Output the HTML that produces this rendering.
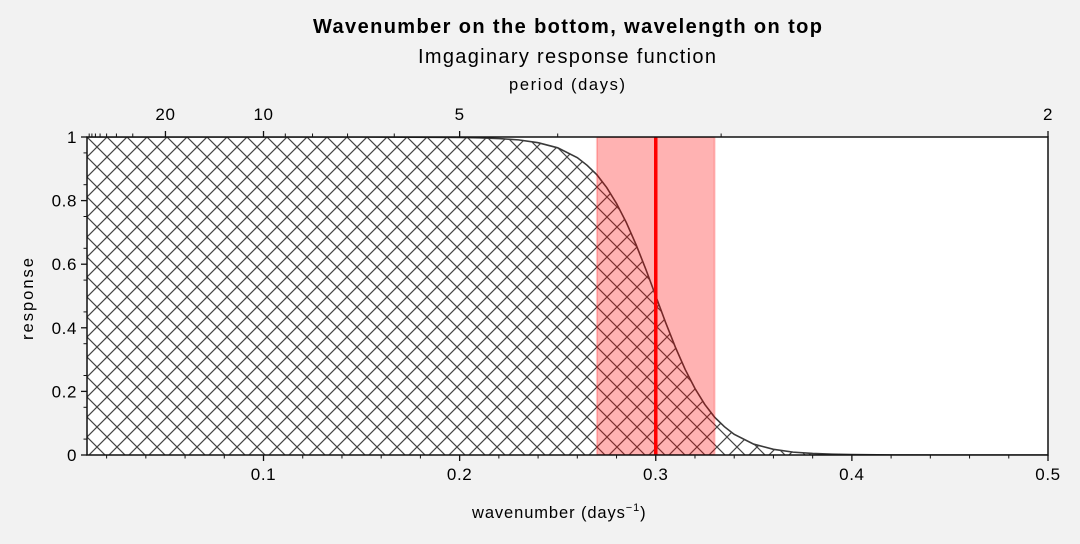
<!DOCTYPE html>
<html><head><meta charset="utf-8"><style>
html,body{margin:0;padding:0;background:#f2f2f2;}
svg{display:block;font-family:"Liberation Sans",sans-serif;}
</style></head><body>
<svg id="chart" width="1080" height="544" viewBox="0 0 1080 544" xmlns="http://www.w3.org/2000/svg">
<defs>
<pattern id="hatch" patternUnits="userSpaceOnUse" width="20" height="20" x="87" y="137">
<path d="M0,0L20,20M20,0L0,20M-2,18L2,22M18,-2L22,2M-2,2L2,-2M18,22L22,18" stroke="#444" stroke-width="1.2" fill="none"/>
</pattern>
<clipPath id="plotclip"><rect x="87" y="137" width="961" height="318"/></clipPath>
</defs>
<rect x="87" y="137" width="961" height="318" fill="#fff"/>
<g id="marks" clip-path="url(#plotclip)"></g>
<g id="axes"></g>
<text x="313" y="33" font-size="20" font-weight="bold" textLength="509" lengthAdjust="spacing">Wavenumber on the bottom, wavelength on top</text>
<text x="418" y="63" font-size="20" textLength="298" lengthAdjust="spacing">Imgaginary response function</text>
<text x="509" y="90" font-size="16.5" textLength="116" lengthAdjust="spacing">period (days)</text>
<text x="472" y="518" font-size="16.5" letter-spacing="0.9">wavenumber (days<tspan font-size="11" dy="-7">−1</tspan><tspan dy="7">)</tspan></text>
<text transform="translate(33,299) rotate(-90)" text-anchor="middle" font-size="16.5" textLength="82" lengthAdjust="spacing">response</text>
</svg>
<script>
const waveX = [0.01,0.05,0.1,0.15,0.2,0.21,0.22,0.23,0.24,0.25,0.26,0.265,0.27,0.275,0.28,0.285,0.29,0.295,0.3,0.305,0.31,0.315,0.32,0.325,0.33,0.335,0.34,0.35,0.36,0.37,0.38,0.39,0.4,0.42,0.45,0.5];
const responseY = [1,1,1,1,0.9987,0.9975,0.995,0.991,0.982,0.966,0.935,0.911,0.881,0.841,0.791,0.731,0.661,0.583,0.5,0.417,0.339,0.269,0.209,0.159,0.119,0.089,0.065,0.034,0.018,0.009,0.005,0.0025,0.0013,0.0003,0.00001,0];
const centerWave = [0.3];
const spanWave = [0.27,0.33];
const xTicks = [0.1,0.2,0.3,0.4,0.5];
const xTickLabels = ["0.1","0.2","0.3","0.4","0.5"];
const yTicks = [0,0.2,0.4,0.6,0.8,1];
const yTickLabels = ["0","0.2","0.4","0.6","0.8","1"];
const periodTicks = [20,10,5,2];
const periodTickLabels = ["20","10","5","2"];
const periodMinor = [90,80,70,60,50,40,30,9,8,7,6,4,3];

const X0=87,X1=1048,Y0=455,Y1=137,XMIN=0.01,XMAX=0.5;
const sx=v=>X0+(v-XMIN)/(XMAX-XMIN)*(X1-X0);
const sy=v=>Y0-v*(Y0-Y1);
const NS="http://www.w3.org/2000/svg";
function mk(tag,attrs,parent){const e=document.createElementNS(NS,tag);for(const k in attrs)e.setAttribute(k,attrs[k]);parent.appendChild(e);return e;}
const marks=document.getElementById('marks'), axes=document.getElementById('axes');

let d='M'+sx(waveX[0])+','+sy(0);
waveX.forEach((x,i)=>{d+='L'+sx(x).toFixed(2)+','+sy(responseY[i]).toFixed(2);});
d+='L'+sx(waveX[waveX.length-1])+','+sy(0)+'Z';
const fill=mk('path',{d:d,fill:'url(#hatch)',stroke:'none'},marks);


let ld='';
waveX.forEach((x,i)=>{ld+=(i?'L':'M')+sx(x).toFixed(2)+','+sy(responseY[i]).toFixed(2);});
const line=mk('path',{d:ld,fill:'none',stroke:'#3a3a3a','stroke-width':1.6},marks);


const span=mk('rect',{x:sx(spanWave[0]),y:Y1,width:sx(spanWave[1])-sx(spanWave[0]),height:Y0-Y1,fill:'rgba(255,0,0,0.3)',stroke:'rgba(255,0,0,0.2)','stroke-width':2},marks);


const vl=mk('line',{x1:sx(centerWave[0]),x2:sx(centerWave[0]),y1:Y1,y2:Y0,stroke:'#ff0000','stroke-width':3.5},marks);



const frame=mk('rect',{x:X0,y:Y1,width:X1-X0,height:Y0-Y1,fill:'none',stroke:'#111','stroke-width':1.5},axes);



xTicks.forEach((v,i)=>{
  mk('line',{x1:sx(v),x2:sx(v),y1:Y0,y2:Y0+6,stroke:'#111','stroke-width':1.3},axes);
  const t=mk('text',{x:sx(v),y:Y0+25,'text-anchor':'middle','font-size':17,'letter-spacing':0.6},axes);
  t.textContent=xTickLabels[i];
  
  
});
for(let v=0.02;v<0.5;v+=0.02){ if(Math.abs(v*10-Math.round(v*10))<1e-6)continue; mk('line',{x1:sx(v),x2:sx(v),y1:Y0,y2:Y0+3.5,stroke:'#111','stroke-width':1},axes);}
yTicks.forEach((v,i)=>{
  mk('line',{x1:X0-6,x2:X0,y1:sy(v),y2:sy(v),stroke:'#111','stroke-width':1.3},axes);
  const t=mk('text',{x:X0-10,y:sy(v)+6,'text-anchor':'end','font-size':17,'letter-spacing':0.6},axes);
  t.textContent=yTickLabels[i];
  
  
});
for(let k=1;k<20;k+=2){ mk('line',{x1:X0-3.5,x2:X0,y1:sy(k*0.05),y2:sy(k*0.05),stroke:'#111','stroke-width':1},axes);}
periodTicks.forEach((p,i)=>{
  const x=sx(1/p);
  mk('line',{x1:x,x2:x,y1:Y1-6,y2:Y1,stroke:'#111','stroke-width':1.3},axes);
  const t=mk('text',{x:x,y:Y1-17,'text-anchor':'middle','font-size':17,'letter-spacing':0.6},axes);
  t.textContent=periodTickLabels[i];
  
  
});
periodMinor.forEach(p=>{const x=sx(1/p); mk('line',{x1:x,x2:x,y1:Y1-3.5,y2:Y1,stroke:'#111','stroke-width':1},axes);});
</script>
</body></html>
